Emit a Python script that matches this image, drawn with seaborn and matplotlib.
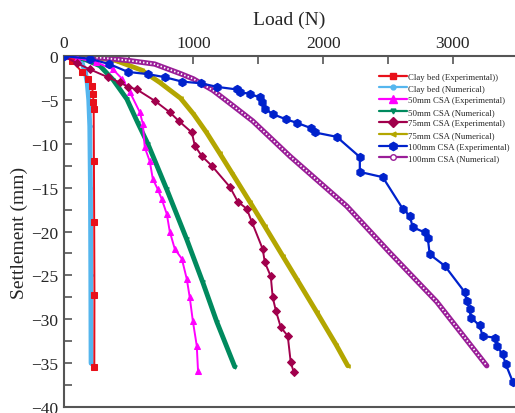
import numpy as np
import pandas as pd
import matplotlib
matplotlib.use('Agg')
import matplotlib.pyplot as plt
from matplotlib.ticker import MultipleLocator
from matplotlib.lines import Line2D
import seaborn as sns

# Load (N) and settlement (mm)
clay_exp_load = [0, 60, 140, 190, 215, 225, 228, 230, 232, 234, 236, 235]
clay_exp_set = [0, -0.5, -1.8, -2.6, -3.4, -4.3, -5.2, -6.0, -12.0, -18.9, -27.2, -35.4]

clay_num_load = [0, 50, 100, 140, 165, 180, 192, 200, 205, 208, 210]
clay_num_set = [0, -0.1, -0.3, -0.8, -1.8, -3.0, -5.0, -8.0, -15.0, -25.0, -35.0]

csa50_exp_load = [0, 100, 250, 378, 450, 509, 586, 609, 624, 663, 686, 725, 755, 794, 817,
                  856, 910, 948, 971, 995, 1025, 1035]
csa50_exp_set = [0, -0.2, -0.7, -1.5, -2.6, -4.1, -6.4, -7.7, -10.4, -12.0, -14.0, -15.2, -16.3,
                 -18.0, -20.0, -22.0, -23.1, -25.4, -27.5, -30.2, -33.0, -35.9]

csa50_num_load = [0, 150, 278, 380, 486, 570, 648, 794, 948, 1072, 1180, 1318]
csa50_num_set = [0, -0.3, -1.1, -2.7, -4.9, -7.6, -10.0, -15.2, -20.9, -25.8, -30.3, -35.4]

csa75_exp_load = [0, 100, 200, 339, 432, 494, 563, 702, 817, 887, 987, 1010, 1064, 1141,
                  1280, 1342, 1411, 1450, 1534, 1550, 1596, 1611, 1635, 1673, 1727, 1750, 1773]
csa75_exp_set = [0, -0.8, -1.5, -2.4, -3.0, -3.5, -3.8, -5.1, -6.4, -7.4, -8.7, -10.2, -11.4,
                 -12.5, -14.9, -16.6, -17.4, -18.9, -22.0, -23.5, -25.1, -27.5, -29.0, -30.9,
                 -31.9, -34.9, -36.0]

csa75_num_load = [0, 200, 400, 600, 740, 900, 1000, 1100, 1203, 1300, 1434, 1550, 1689, 1800,
                  1951, 2100, 2190]
csa75_num_set = [0, -0.1, -0.5, -1.6, -3.0, -4.8, -6.6, -8.7, -11.1, -13.4, -16.6, -19.4,
                 -22.8, -25.5, -29.2, -32.9, -35.3]

csa100_exp_load = [0, 200, 350, 494, 648, 779, 910, 1060, 1180, 1334, 1357, 1434, 1511, 1527,
                   1550, 1611, 1712, 1797, 1905, 1936, 2105, 2283, 2283, 2460, 2614, 2668, 2691,
                   2784, 2807, 2822, 2938, 3092, 3107, 3130, 3138, 3207, 3230, 3323, 3338, 3385,
                   3408, 3462]
csa100_exp_set = [0, -0.3, -0.9, -1.8, -2.05, -2.4, -2.9, -3.1, -3.5, -3.8, -4.1, -4.3, -4.7,
                  -5.2, -6.0, -6.6, -7.2, -7.6, -8.2, -8.7, -9.2, -11.5, -13.2, -13.8, -17.4,
                  -18.2, -19.5, -20.1, -20.7, -22.6, -23.9, -26.9, -27.9, -28.8, -29.8, -30.7,
                  -31.9, -32.1, -33.0, -34.0, -35.1, -37.1]

csa100_num_load = [0, 300, 500, 700, 900, 1000, 1150, 1300, 1457, 1600, 1743, 1974, 2182, 2514,
                   2876, 3262]
csa100_num_set = [0, -0.2, -0.5, -0.9, -2.0, -2.6, -3.9, -5.6, -7.4, -9.4, -11.4, -14.4, -17.1,
                  -22.4, -28.0, -35.3]

sns.set_theme(style='white')
plt.rcParams['font.family'] = ['Liberation Serif', 'DejaVu Serif']
plt.rcParams['axes.unicode_minus'] = True

fig = plt.figure(figsize=(5.15, 4.14), dpi=100)
ax = fig.add_axes([0.124, 0.0145, 0.876, 0.8475])

legend_handles = []

def draw(load, sett, color, marker, label, lw=1.6, ms=5, zorder=2, leg_ms=5, leg_mfc=None):
    df = pd.DataFrame({'load': load, 'set': sett})
    sns.lineplot(data=df, x='load', y='set', sort=False, estimator=None, ax=ax,
                 color=color, marker=marker, markersize=ms, linewidth=lw,
                 markeredgecolor=color, zorder=zorder)
    legend_handles.append(Line2D([], [], color=color, marker=marker, markersize=leg_ms,
                                 linewidth=1.6, markeredgecolor=color,
                                 markerfacecolor=leg_mfc if leg_mfc else color, label=label))

draw(clay_exp_load, clay_exp_set, '#e8101a', 's', 'Clay bed (Experimental))', lw=1.4, ms=4, zorder=3, leg_ms=5)
draw(clay_num_load, clay_num_set, '#55b6ee', 'o', 'Clay bed (Numerical)', lw=3.5, ms=2.5, leg_ms=3.5)
draw(csa50_exp_load, csa50_exp_set, '#ff00ff', '^', '50mm CSA (Experimental)', lw=1.4, ms=5, zorder=3, leg_ms=6)
draw(csa50_num_load, csa50_num_set, '#008a5e', 'v', '50mm CSA (Numerical)', lw=3.5, ms=2.5, leg_ms=3.5)
draw(csa75_exp_load, csa75_exp_set, '#a1004c', 'D', '75mm CSA (Experimental)', lw=1.4, ms=4.5, zorder=3, leg_ms=5)
draw(csa75_num_load, csa75_num_set, '#b3a600', '<', '75mm CSA (Numerical)', lw=3.5, ms=2.5, leg_ms=3.5)
draw(csa100_exp_load, csa100_exp_set, '#0022cc', 'h', '100mm CSA (Experimental)', lw=1.6, ms=6, zorder=3, leg_ms=6)
draw(csa100_num_load, csa100_num_set, '#9a1e98', 'o', '100mm CSA (Numerical)', lw=3.8, ms=0.1,
     leg_ms=4, leg_mfc='white')
# white dots inside the purple band (open circle markers)
ax.plot(csa100_num_load, csa100_num_set, color='white', linestyle=(0, (0.8, 1.2)),
        linewidth=1.3, zorder=2.5)

ax.set_xlim(0, 3480)
ax.set_ylim(-40, 0)
ax.xaxis.set_ticks_position('top')
ax.xaxis.set_label_position('top')
ax.xaxis.set_major_locator(MultipleLocator(1000))
ax.xaxis.set_minor_locator(MultipleLocator(500))
ax.yaxis.set_major_locator(MultipleLocator(5))
ax.yaxis.set_minor_locator(MultipleLocator(2.5))
ax.tick_params(axis='both', which='both', direction='in', labelsize=12.5, color='#555555',
               width=1.2, pad=4, length=6)
ax.tick_params(axis='x', which='both', top=True, bottom=False)
ax.tick_params(axis='y', which='both', left=True, right=False)
ax.set_xlabel('Load (N)', fontsize=14, labelpad=8)
ax.set_ylabel('Settlement (mm)', fontsize=14, labelpad=2)

for s in ['left', 'top', 'bottom']:
    ax.spines[s].set_color('#555555')
    ax.spines[s].set_linewidth(1.5)
ax.spines['right'].set_visible(False)

ax.legend(handles=legend_handles, loc='upper left', bbox_to_anchor=(0.688, 0.965), frameon=False,
          fontsize=6.3, handlelength=3.2, handletextpad=0.15, labelspacing=0.4, borderpad=0)

fig.savefig('out.png', dpi=100)
